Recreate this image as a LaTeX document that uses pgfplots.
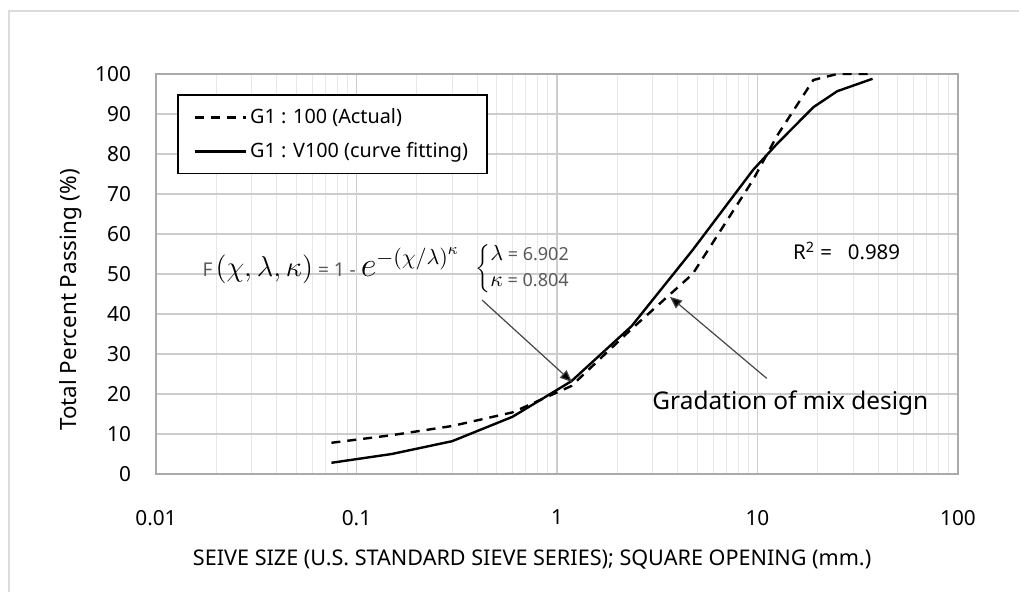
\documentclass[border=0pt]{standalone}
\usepackage{pgfplots}
\pgfplotsset{compat=1.18}
\usepackage{fontspec}
\setmainfont{Noto Sans}
\usetikzlibrary{arrows.meta}
\definecolor{gridmaj}{RGB}{205,205,205}
\definecolor{gridmin}{RGB}{232,232,232}
\definecolor{axisgray}{RGB}{170,170,170}
\definecolor{framegray}{RGB}{220,220,220}
\definecolor{txtgray}{RGB}{90,90,90}
\definecolor{arrgray}{RGB}{70,70,70}

\pgfplotstableread{
x y
0.075 7.8
0.15 9.7
0.3 12.0
0.6 15.4
1.18 22.0
2.36 36.3
4.75 50.0
9.5 73.5
12.5 84.5
19 98.5
25 100
37.5 100
}\actualdata

\pgfplotstableread{
x y
0.075 2.8
0.15 5.0
0.3 8.2
0.6 14.3
1.18 23.2
2.36 37.0
4.75 56.0
9.5 76.0
12.5 82.5
19 91.7
25 95.7
37.5 98.8
}\fitdata

\begin{document}
\begin{tikzpicture}
\useasboundingbox (-78pt,-59pt) rectangle (431.5pt,237pt);
\draw[color=framegray, line width=0.7pt] (-73.5pt,-59pt) -- (-73.5pt,231.5pt) -- (431.5pt,231.5pt);
\begin{axis}[
  at={(0pt,0pt)}, anchor=south west,
  scale only axis, width=401pt, height=200pt,
  xmode=log, xmin=0.01, xmax=100, ymin=0, ymax=100,
  log basis x=10,
  xtick={0.01,0.1,1,10,100},
  xticklabels={0.01,0.1,1,10,100},
  minor xtick={0.02,0.03,0.04,0.05,0.06,0.07,0.08,0.09,0.2,0.3,0.4,0.5,0.6,0.7,0.8,0.9,2,3,4,5,6,7,8,9,20,30,40,50,60,70,80,90},
  ytick={0,10,20,30,40,50,60,70,80,90,100},
  xmajorgrids, xminorgrids, ymajorgrids,
  major grid style={gridmaj, line width=0.6pt},
  minor grid style={gridmin, line width=0.5pt},
  major tick length=0pt, minor tick length=0pt,
  tick style={draw=none},
  axis line style={axisgray, line width=0.9pt},
  /pgf/number format/assume math mode=true,
  tick label style={font=\fontsize{10.4}{12}\selectfont, text=black},
  xticklabel style={yshift=-14.5pt},
  yticklabel style={xshift=-9pt},
  xlabel={SEIVE SIZE (U.S. STANDARD SIEVE SERIES); SQUARE OPENING (mm.)},
  xlabel style={at={(axis description cs:0.469,-0.215)}, anchor=center, font=\fontsize{10.8}{13}\selectfont},
  ylabel={Total Percent Passing (\%)},
  ylabel style={at={(axis description cs:-0.107,0.435)}, anchor=center, font=\fontsize{11.2}{13}\selectfont},
  legend cell align=left,
  legend image code/.code={\draw[#1] (0pt,0pt) -- (25.5pt,0pt);},
  legend style={at={(axis description cs:0.026,0.949)}, anchor=north west,
    draw=black, line width=0.9pt, fill=white,
    font=\fontsize{9.9}{12}\selectfont,
    inner xsep=8pt, inner ysep=5pt, row sep=5pt,
    nodes={inner sep=1.5pt}},
]
\addplot[black, line width=1.2pt, dash pattern=on 4.5pt off 3.5pt] table[x=x,y=y] {\actualdata};
\addlegendentry{G1 : 100 (Actual)}
\addplot[black, line width=1.2pt] table[x=x,y=y] {\fitdata};
\addlegendentry{G1 : V100 (curve fitting)}

\node[anchor=base west, inner sep=0pt] at (axis cs:0.017,49.25)
  {\textcolor{txtgray}{\fontsize{9.5}{11}\selectfont F\,}{\fontsize{15}{18}\selectfont$\left(\chi,\lambda,\kappa\right)$}\textcolor{txtgray}{\fontsize{9.5}{11}\selectfont\ = 1 - }{\fontsize{16}{18}\selectfont$e^{-\left({\chi}/{\lambda}\right)^{\kappa}}$}};
\node[anchor=west, inner sep=0pt] at (axis cs:0.39,51.25)
  {\fontsize{10.5}{12}\selectfont$\left\{\begin{array}{@{}l@{}}\lambda\mbox{\textcolor{txtgray}{\fontsize{9}{10}\selectfont\ = 6.902}}\\[1pt] \kappa\mbox{\textcolor{txtgray}{\fontsize{9}{10}\selectfont\ = 0.804}}\end{array}\right.$};
\node[anchor=base west, inner sep=0pt, font=\fontsize{10.2}{12}\selectfont] at (axis cs:15.0,53.5) {R\textsuperscript{2} =\ \ \ 0.989};
\node[anchor=base west, inner sep=0pt, font=\fontsize{12.2}{14}\selectfont] at (axis cs:2.98,16) {Gradation of mix design};

\draw[arrgray, line width=0.6pt, -{Triangle[length=6pt,width=5pt,fill=black]}] (axis cs:0.4227,43.5) -- (axis cs:1.188,23);
\draw[arrgray, line width=0.6pt, -{Triangle[length=6pt,width=5pt,fill=black]}] (axis cs:11.12,23.9) -- (axis cs:3.66,44.3);
\end{axis}
\end{tikzpicture}
\end{document}
